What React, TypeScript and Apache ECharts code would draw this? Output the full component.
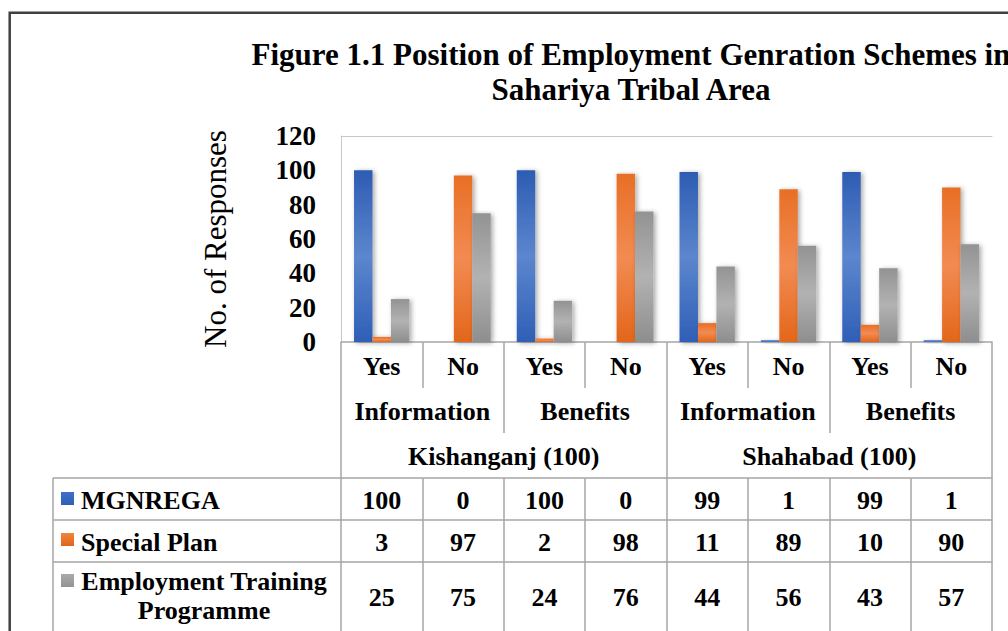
import React, { useEffect, useRef } from "react";
import * as echarts from "echarts";

const categories = ["Yes", "No", "Yes", "No", "Yes", "No", "Yes", "No"];
const aspects = ["Information", "Benefits", "Information", "Benefits"];
const regions = ["Kishanganj (100)", "Shahabad (100)"];
const seriesNames = ["MGNREGA", "Special Plan", "Employment Training\nProgramme"];
const mgnrega = [100, 0, 100, 0, 99, 1, 99, 1];
const specialPlan = [3, 97, 2, 98, 11, 89, 10, 90];
const training = [25, 75, 24, 76, 44, 56, 43, 57];
const yTicks = { min: 0, max: 120, interval: 20 };
const titleLines = ["Figure 1.1 Position of Employment Genration Schemes in", "Sahariya Tribal Area"];
const yTitle = "No. of Responses";

const FONT = "'Liberation Serif', 'Times New Roman', serif";
const LINE = "#a6a6a6";
const FS = 26;

const grad = (a: string, b: string, c: string) =>
  new echarts.graphic.LinearGradient(0, 0, 0, 1, [
    { offset: 0, color: a },
    { offset: 0.5, color: b },
    { offset: 1, color: c },
  ]);

const fills = [
  () => grad("#2d5cb3", "#5c86cd", "#2f5fb7"),
  () => grad("#e86f25", "#f28b52", "#e3661a"),
  () => grad("#939393", "#b2b2b2", "#8e8e8e"),
];
const keyColors = [
  ["#3d6fc9", "#2f5fb5"],
  ["#f2843f", "#e0651a"],
  ["#aaaaaa", "#939393"],
];

export default function App() {
  const ref = useRef<HTMLDivElement>(null);
  useEffect(() => {
    document.body.style.margin = "0";
    const chart = echarts.init(ref.current!, null, { renderer: "svg" });
    const gridTop = 136;
    const gridBottomY = 342;
    const left = 341;
    const right = 992;

    const catLabel = {
      fontFamily: FONT,
      fontWeight: "bold" as const,
      fontSize: FS,
      color: "#000",
      interval: 0,
    };
    const tableAxis = (data: string[], offset: number, tickLen: number, margin: number, showLine: boolean) => ({
      type: "category",
      position: "bottom",
      data,
      offset,
      boundaryGap: true,
      axisLine: { show: showLine, lineStyle: { color: LINE, width: 1.5 } },
      axisTick: { show: true, interval: 0, length: tickLen, lineStyle: { color: LINE, width: 1.5 } },
      axisLabel: { ...catLabel, margin },
      splitLine: { show: false },
    });

    const seriesData = [mgnrega, specialPlan, training];

    const graphics: any[] = [
      {
        type: "rect",
        shape: { x: 9.7, y: 12.7, width: 1400, height: 900 },
        style: { fill: "none", stroke: "#404040", lineWidth: 2.5 },
        z: 0,
      },
    ];
    [478, 520, 562].forEach((y) =>
      graphics.push({
        type: "line",
        shape: { x1: 53, y1: y, x2: left, y2: y },
        style: { stroke: LINE, lineWidth: 1.5 },
      })
    );
    graphics.push({
      type: "line",
      shape: { x1: 53, y1: 478, x2: 53, y2: 660 },
      style: { stroke: LINE, lineWidth: 1.5 },
    });
    const keyY = [492, 533, 574];
    const textY = [500, 542, 596];
    seriesNames.forEach((name, i) => {
      graphics.push({
        type: "rect",
        shape: { x: 61, y: keyY[i], width: 13, height: 13 },
        style: {
          fill: new echarts.graphic.LinearGradient(0, 0, 0, 1, [
            { offset: 0, color: keyColors[i][0] },
            { offset: 1, color: keyColors[i][1] },
          ]),
        },
      });
      const multi = name.includes("\n");
      graphics.push({
        type: "text",
        x: multi ? 204 : 81,
        y: textY[i],
        style: {
          text: name,
          fontFamily: FONT,
          fontWeight: "bold",
          fontSize: FS,
          fill: "#000",
          align: multi ? "center" : "left",
          verticalAlign: "middle",
          lineHeight: 29.5,
        },
      });
    });

    chart.setOption({
      animation: false,
      backgroundColor: "#fff",
      title: {
        text: titleLines.join("\n"),
        left: 631,
        top: 37,
        padding: 0,
        textAlign: "center",
        textStyle: {
          fontFamily: FONT,
          fontWeight: "bold",
          fontSize: 31,
          lineHeight: 35,
          color: "#000",
        },
      },
      grid: {
        left,
        top: gridTop,
        width: right - left,
        height: gridBottomY - gridTop,
        containLabel: false,
        show: false,
      },
      xAxis: [
        tableAxis(categories, 0, 46, 11, true),
        tableAxis(aspects, 46, 45, 10.5, false),
        tableAxis(regions, 91, 45, 10.5, false),
        tableAxis(mgnrega.map(String), 136, 42, 9, true),
        tableAxis(specialPlan.map(String), 178, 42, 9, true),
        tableAxis(training.map(String), 220, 90, 22, true),
        {
          type: "category",
          position: "top",
          data: categories,
          axisLine: { show: true, lineStyle: { color: "#c8c8c8", width: 1 } },
          axisTick: { show: false },
          axisLabel: { show: false },
          splitLine: { show: false },
        },
      ],
      yAxis: {
        type: "value",
        min: yTicks.min,
        max: yTicks.max,
        interval: yTicks.interval,
        name: yTitle,
        nameLocation: "middle",
        nameGap: 110,
        nameTextStyle: {
          fontFamily: FONT,
          fontSize: 31,
          fontWeight: "normal",
          color: "#000",
        },
        axisLine: { show: true, lineStyle: { color: "#c8c8c8", width: 1 } },
        axisTick: { show: false },
        axisLabel: {
          fontFamily: FONT,
          fontWeight: "bold",
          fontSize: 27,
          color: "#000",
          margin: 25,
        },
        splitLine: {
          show: true,
          showMaxLine: false,
          lineStyle: {
            color: "#a3a3a3",
            width: 1.3,
            shadowColor: "rgba(0,0,0,0.18)",
            shadowBlur: 2,
            shadowOffsetY: 1.5,
          },
        },
      },
      series: seriesNames.map((name, i) => ({
        name,
        type: "bar",
        xAxisIndex: 0,
        data: seriesData[i],
        barGap: "0%",
        barCategoryGap: "32%",
        itemStyle: {
          color: fills[i](),
          shadowColor: "rgba(0,0,0,0.35)",
          shadowBlur: 5,
          shadowOffsetX: 2,
          shadowOffsetY: 1,
        },
        z: 3,
      })),
      graphic: graphics,
    });
    return () => chart.dispose();
  }, []);
  return <div ref={ref} style={{ width: 1008, height: 631 }} />;
}
